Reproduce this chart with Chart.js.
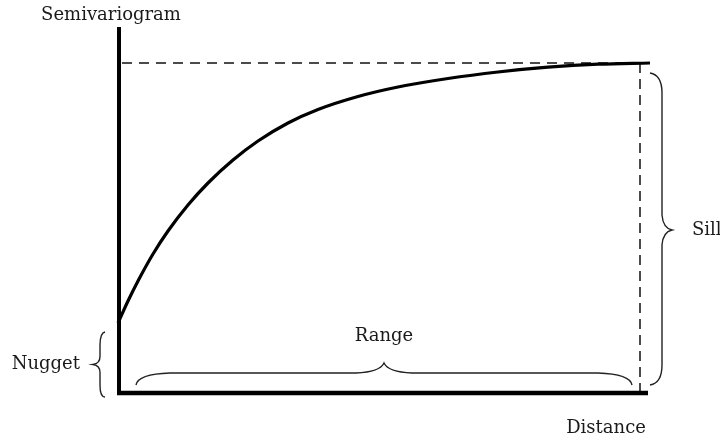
<!DOCTYPE html>
<html>
<head>
<meta charset="utf-8">
<script src="https://cdn.jsdelivr.net/npm/chart.js@4/dist/chart.umd.min.js"></script>
<style>
  html, body { margin: 0; padding: 0; background: #fff; }
  #wrap { width: 720px; height: 441px; }
</style>
</head>
<body>
<div id="wrap"><canvas id="c" width="720" height="441"></canvas></div>
<script>
// Semivariogram: lag distance vs. semivariance, rising from the nugget to the sill
const distance = [0, 10, 20, 35, 50, 70, 90, 115, 140, 170, 200, 240, 280, 330, 380, 430, 480, 532];
const semivariance = [70, 92, 112, 139, 162, 188, 210, 233, 252, 270, 283.5, 296.5, 306, 314.5, 321, 325.8, 328.8, 330];

// Model parameters
const nugget = 70;
const sill = 330;
const range = 522;

// Axis extents
const xMax = 530;
const yMax = 366;

// Annotation labels
const labels = {
  yAxis: 'Semivariogram',
  xAxis: 'Distance',
  nugget: 'Nugget',
  range: 'Range',
  sill: 'Sill'
};

const FONT = '18px "DejaVu Serif", serif';
const INK = '#1a1a1a';

const curvePoints = distance.map((d, i) => ({ x: d, y: semivariance[i] }));

// Axes, braces and labels drawn from the chart's scales
const annotate = {
  id: 'annotate',
  afterDatasetsDraw(chart) {
    const { ctx, scales: { x, y } } = chart;
    const x0 = x.getPixelForValue(0);
    const xR = x.getPixelForValue(range);
    const xEnd = x.getPixelForValue(xMax);
    const y0 = y.getPixelForValue(0);
    const yN = y.getPixelForValue(nugget);
    const yS = y.getPixelForValue(sill);
    const yTop = y.getPixelForValue(yMax);

    ctx.save();
    // axes
    ctx.strokeStyle = '#000';
    ctx.lineCap = 'butt';
    ctx.lineWidth = 4;
    ctx.beginPath();
    ctx.moveTo(x0 + 1, yTop);
    ctx.lineTo(x0 + 1, y0 + 2);
    ctx.stroke();
    ctx.lineWidth = 4.5;
    ctx.beginPath();
    ctx.moveTo(x0 - 1, y0);
    ctx.lineTo(xEnd, y0);
    ctx.stroke();

    // braces
    ctx.strokeStyle = '#222';
    ctx.lineWidth = 1.4;

    // nugget brace "{"
    {
      const bx = x0 - 18, top = yN + 9, bot = y0 + 4, mid = (top + bot) / 2;
      ctx.beginPath();
      ctx.moveTo(bx + 5, top);
      ctx.quadraticCurveTo(bx, top + 1, bx, top + 13);
      ctx.lineTo(bx, mid - 8);
      ctx.quadraticCurveTo(bx, mid - 1, bx - 7, mid);
      ctx.quadraticCurveTo(bx, mid + 1, bx, mid + 8);
      ctx.lineTo(bx, bot - 12);
      ctx.quadraticCurveTo(bx, bot, bx + 5, bot);
      ctx.stroke();
    }

    // range brace (pointing up)
    {
      const l = x0 + 18, r = xR - 8, m = (l + r) / 2;
      const endY = y0 - 8, flatY = y0 - 20, tipY = y0 - 30;
      ctx.beginPath();
      ctx.moveTo(l, endY);
      ctx.quadraticCurveTo(l + 2, flatY + 1, l + 34, flatY);
      ctx.lineTo(m - 28, flatY);
      ctx.quadraticCurveTo(m - 4, flatY - 1, m, tipY);
      ctx.quadraticCurveTo(m + 4, flatY - 1, m + 28, flatY);
      ctx.lineTo(r - 34, flatY);
      ctx.quadraticCurveTo(r - 2, flatY + 1, r, endY);
      ctx.stroke();
    }

    // sill brace "}"
    {
      const bx = xR + 22, top = yS + 10, bot = y0 - 8, mid = y.getPixelForValue(163);
      ctx.beginPath();
      ctx.moveTo(bx - 12, top);
      ctx.quadraticCurveTo(bx, top + 2, bx, top + 20);
      ctx.lineTo(bx, mid - 15);
      ctx.quadraticCurveTo(bx + 1, mid - 2, bx + 10, mid);
      ctx.quadraticCurveTo(bx + 1, mid + 2, bx, mid + 15);
      ctx.lineTo(bx, bot - 20);
      ctx.quadraticCurveTo(bx, bot - 2, bx - 12, bot);
      ctx.stroke();
    }

    // labels
    ctx.fillStyle = INK;
    ctx.font = FONT;
    ctx.textBaseline = 'middle';
    ctx.textAlign = 'center';
    ctx.fillText(labels.yAxis, x0 - 7, yTop - 12);
    ctx.fillText(labels.range, (x0 + 18 + xR - 8) / 2, y0 - 57);
    ctx.fillText(labels.xAxis, xEnd - 42, y0 + 35);
    ctx.textAlign = 'right';
    ctx.fillText(labels.nugget, x0 - 38, (yN + 9 + y0 + 4) / 2);
    ctx.textAlign = 'left';
    ctx.fillText(labels.sill, xR + 52, y.getPixelForValue(163));
    ctx.restore();
  }
};

new Chart(document.getElementById('c'), {
  type: 'line',
  data: {
    datasets: [
      {
        label: 'Semivariance',
        data: curvePoints,
        borderColor: '#000',
        borderWidth: 3.2,
        pointRadius: 0,
        cubicInterpolationMode: 'monotone',
        fill: false,
        clip: false
      },
      {
        label: 'Sill level',
        data: [{ x: 4, y: sill }, { x: range, y: sill }],
        borderColor: '#111',
        borderWidth: 1.5,
        borderDash: [10, 7],
        pointRadius: 0,
        fill: false
      },
      {
        label: 'Range limit',
        data: [{ x: range, y: sill }, { x: range, y: 0 }],
        borderColor: '#111',
        borderWidth: 1.5,
        borderDash: [10, 6],
        pointRadius: 0,
        fill: false
      }
    ]
  },
  options: {
    responsive: false,
    animation: false,
    layout: { padding: { left: 118, right: 72, top: 27, bottom: 48 } },
    plugins: {
      legend: { display: false },
      tooltip: { enabled: false }
    },
    scales: {
      x: { type: 'linear', min: 0, max: xMax, display: false },
      y: { type: 'linear', min: 0, max: yMax, display: false }
    }
  },
  plugins: [annotate]
});
</script>
</body>
</html>
